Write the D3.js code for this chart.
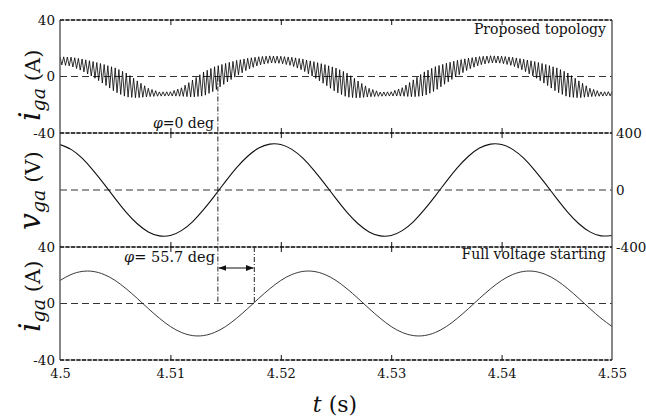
<!DOCTYPE html>
<html><head><meta charset="utf-8">
<script src="https://cdn.jsdelivr.net/npm/d3@7"></script>
<style>
body{margin:0;background:#fff;}
svg{display:block;font-family:"DejaVu Serif",serif;fill:#111;}
</style></head><body><div id="chart"></div>
<script>
/* three stacked traces sharing one time axis, 4.50 .. 4.55 s.
   samples every 1 ms */
var tStart=4.5, tStep=0.001;
var xTicks=[4.5,4.51,4.52,4.53,4.54,4.55];
var innerTicks=[4.51,4.52,4.53,4.54];
var leftTicks=[-40,0,40];
var rightTicks=[-400,0,400];

// proposed topology: fundamental of i_ga (A) and half-height of the switching ripple band (A)
var iProposed=[11.2,10.5,8.2,5.1,1.5,-2.4,-6.0,-9.1,-11.3,-12.4,-12.3,-11.0,-8.5,-5.3,-1.6,2.3,5.9,8.9,11.0,12.1,
               11.8,10.6,8.3,5.0,1.4,-2.5,-6.1,-9.2,-11.4,-12.5,-12.3,-10.9,-8.4,-5.2,-1.5,2.4,6.0,9.0,11.1,12.2,
               11.9,10.6,8.2,5.1,1.5,-2.4,-6.0,-9.1,-11.3,-12.4,-12.2];
var rippleBand=[2.8,3.2,4.2,5.5,7.0,8.5,8.5,6.0,3.0,1.5,1.5,3.0,6.0,8.5,8.5,7.0,5.5,4.0,3.0,2.5,
                2.5,3.0,4.0,5.5,7.0,8.5,8.5,6.0,3.0,1.5,1.5,3.0,6.0,8.5,8.5,7.0,5.5,4.0,3.0,2.5,
                2.5,3.0,4.0,5.5,7.0,8.5,8.5,6.0,3.0,1.5,1.5];
var fSwitch=3000; // ripple teeth per second, counted on the figure

// grid voltage v_ga (V)
var vGrid=[319,285,223,138,41,-61,-157,-237,-294,-322,-319,-285,-223,-138,-41,61,157,237,294,322,
           319,285,223,138,41,-61,-157,-237,-294,-322,-319,-285,-223,-138,-41,61,157,237,294,322,
           319,285,223,138,41,-61,-157,-237,-294,-322,-319];

// full voltage starting i_ga (A)
var iFull=[16.3,20.5,22.7,22.7,20.5,16.3,10.4,3.6,-3.6,-10.4,-16.3,-20.5,-22.7,-22.7,-20.5,-16.3,-10.4,-3.6,3.6,10.4,
           16.3,20.5,22.7,22.7,20.5,16.3,10.4,3.6,-3.6,-10.4,-16.3,-20.5,-22.7,-22.7,-20.5,-16.3,-10.4,-3.6,3.6,10.4,
           16.3,20.5,22.7,22.7,20.5,16.3,10.4,3.6,-3.6,-10.4,-16.3];

var tZero=4.5143, tLag=4.5176; // zero crossings marked by the dash-dot lines

var times=vGrid.map(function(d,i){return +(tStart+i*tStep).toFixed(3);});

var W=646,H=418, L=60, R=612;
var FONT="'DejaVu Serif', serif";
var svg=d3.select("#chart").append("svg").attr("width",W).attr("height",H);
var x=d3.scaleLinear().domain([4.5,4.55]).range([L,R]);

var panels=[
  {top:20,bottom:133,dom:[-40,40]},
  {top:133,bottom:247,dom:[-400,400]},
  {top:247,bottom:360,dom:[-40,40]}
];
panels.forEach(function(p,i){
  p.y=d3.scaleLinear().domain(p.dom).range([p.bottom,p.top]);
  svg.append("clipPath").attr("id","clip"+i).append("rect")
    .attr("x",L).attr("y",p.top).attr("width",R-L).attr("height",p.bottom-p.top);
});

var defs=svg.append("defs");
defs.append("marker").attr("id","arr").attr("viewBox","0 0 8 6").attr("refX",7.5).attr("refY",3)
  .attr("markerWidth",8).attr("markerHeight",6).attr("markerUnits","userSpaceOnUse").attr("orient","auto-start-reverse")
  .append("path").attr("d","M0,0L8,3L0,6Z").attr("fill","#111");

// zero lines
panels.forEach(function(p){
  svg.append("line").attr("x1",L).attr("x2",R).attr("y1",p.y(0)).attr("y2",p.y(0))
    .attr("stroke","#333").attr("stroke-width",1).attr("stroke-dasharray","7,4");
});

// ripple current: switching between the upper and lower edges of the band
var fund=d3.scaleLinear().domain(times).range(iProposed);
var band=d3.scaleLinear().domain(times).range(rippleBand);
var nTeeth=Math.round((4.55-4.5)*2*fSwitch);
var teeth=d3.range(nTeeth+1).map(function(j){
  var t=4.5+j/(2*fSwitch);
  return {t:t,v:fund(t)+(j%2?-1:1)*band(t)};
});
svg.append("path").datum(teeth).attr("clip-path","url(#clip0)")
  .attr("fill","none").attr("stroke","#000").attr("stroke-width",0.8)
  .attr("d",d3.line().x(function(d){return x(d.t);}).y(function(d){return panels[0].y(d.v);}));

function smooth(vals,p,w,c,clip){
  svg.append("path").datum(vals).attr("clip-path","url(#clip"+clip+")")
    .attr("fill","none").attr("stroke",c).attr("stroke-width",w)
    .attr("d",d3.line().curve(d3.curveNatural).x(function(d,i){return x(times[i]);}).y(function(d){return p.y(d);}));
}
smooth(vGrid,panels[1],1.1,"#111",1);
smooth(iFull,panels[2],0.9,"#222",2);

// frame
svg.append("g").selectAll("line").data([L,R]).enter().append("line")
  .attr("x1",function(d){return d;}).attr("x2",function(d){return d;}).attr("y1",20).attr("y2",360)
  .attr("stroke","#555").attr("stroke-width",1.4);
var hb=[20,133,247,360];
svg.append("g").selectAll("line").data(hb).enter().append("line")
  .attr("x1",L).attr("x2",R).attr("y1",function(d){return d;}).attr("y2",function(d){return d;})
  .attr("stroke","#999").attr("stroke-width",1.2);
svg.append("g").selectAll("line").data(hb).enter().append("line")
  .attr("x1",L).attr("x2",R).attr("y1",function(d){return d;}).attr("y2",function(d){return d;})
  .attr("stroke","#111").attr("stroke-width",1.6).attr("stroke-dasharray","4,1.5");

// inward ticks on every panel edge
panels.forEach(function(p){
  svg.append("g").attr("transform","translate(0,"+p.top+")")
    .call(d3.axisTop(x).tickValues(innerTicks).tickSize(-5).tickFormat(""))
    .call(function(g){g.select(".domain").remove();g.selectAll("line").attr("stroke","#111");});
  svg.append("g").attr("transform","translate(0,"+p.bottom+")")
    .call(d3.axisBottom(x).tickValues(innerTicks).tickSize(-5).tickFormat(""))
    .call(function(g){g.select(".domain").remove();g.selectAll("line").attr("stroke","#111");});
});

function styleAx(g,size){
  g.attr("font-family",FONT).attr("font-size",size);
  g.select(".domain").remove();
  g.selectAll("text").attr("fill","#111");
}
svg.append("g").attr("transform","translate(0,360)")
  .call(d3.axisBottom(x).tickValues(xTicks).tickSize(0).tickPadding(9).tickFormat(function(d){return String(+d.toFixed(2));}))
  .call(function(g){styleAx(g,13);});
[0,2].forEach(function(i){
  svg.append("g").attr("transform","translate("+L+",0)")
    .call(d3.axisLeft(panels[i].y).tickValues(leftTicks).tickSize(0).tickPadding(5).tickFormat(function(d){return String(d);}))
    .call(function(g){styleAx(g,13.5);});
});
svg.append("g").attr("transform","translate("+R+",0)")
  .call(d3.axisRight(panels[1].y).tickValues(rightTicks).tickSize(0).tickPadding(4).tickFormat(function(d){return String(d);}))
  .call(function(g){styleAx(g,13.5);});

// y labels
function yLabel(yStart,sym,unit){
  var t=svg.append("text").attr("transform","translate(40,"+yStart+") rotate(-90)").attr("fill","#111");
  t.append("tspan").style("font-style","italic").style("font-size","30px").text(sym);
  t.append("tspan").style("font-style","italic").style("font-size","19px").attr("dy",5).text("ga");
  t.append("tspan").attr("dy",-5).style("font-size","21px").text("\u00a0("+unit+")");
}
yLabel(121,"i","A");
yLabel(230,"v","V");
yLabel(332,"i","A");

svg.append("text").attr("x",335).attr("y",412).attr("text-anchor","middle").style("font-size","22px")
  .call(function(t){
    t.append("tspan").style("font-style","italic").text("t");
    t.append("tspan").text(" (s)");
  });

// annotations
svg.append("text").attr("x",606).attr("y",34).attr("text-anchor","end").style("font-size","14px").text("Proposed topology");
svg.append("text").attr("x",606).attr("y",259).attr("text-anchor","end").style("font-size","14px").text("Full voltage starting");

svg.append("line").attr("x1",x(tZero)).attr("x2",x(tZero)).attr("y1",panels[0].y(0)).attr("y2",panels[2].y(0))
  .attr("stroke","#222").attr("stroke-width",1).attr("stroke-dasharray","5,2,1,2");
svg.append("line").attr("x1",x(tLag)).attr("x2",x(tLag)).attr("y1",247).attr("y2",panels[2].y(0))
  .attr("stroke","#222").attr("stroke-width",1).attr("stroke-dasharray","5,2,1,2");
svg.append("line").attr("x1",x(tZero)+1).attr("x2",x(tLag)-1).attr("y1",268).attr("y2",268)
  .attr("stroke","#111").attr("stroke-width",1).attr("marker-start","url(#arr)").attr("marker-end","url(#arr)");

svg.append("text").attr("x",214).attr("y",128).attr("text-anchor","end").style("font-size","14px")
  .call(function(t){
    t.append("tspan").style("font-style","italic").text("\u03c6");
    t.append("tspan").text("=0 deg");
  });
svg.append("text").attr("x",215).attr("y",262).attr("text-anchor","end").style("font-size","14.5px")
  .call(function(t){
    t.append("tspan").style("font-style","italic").text("\u03c6");
    t.append("tspan").text("= 55.7 deg");
  });
</script></body></html>
